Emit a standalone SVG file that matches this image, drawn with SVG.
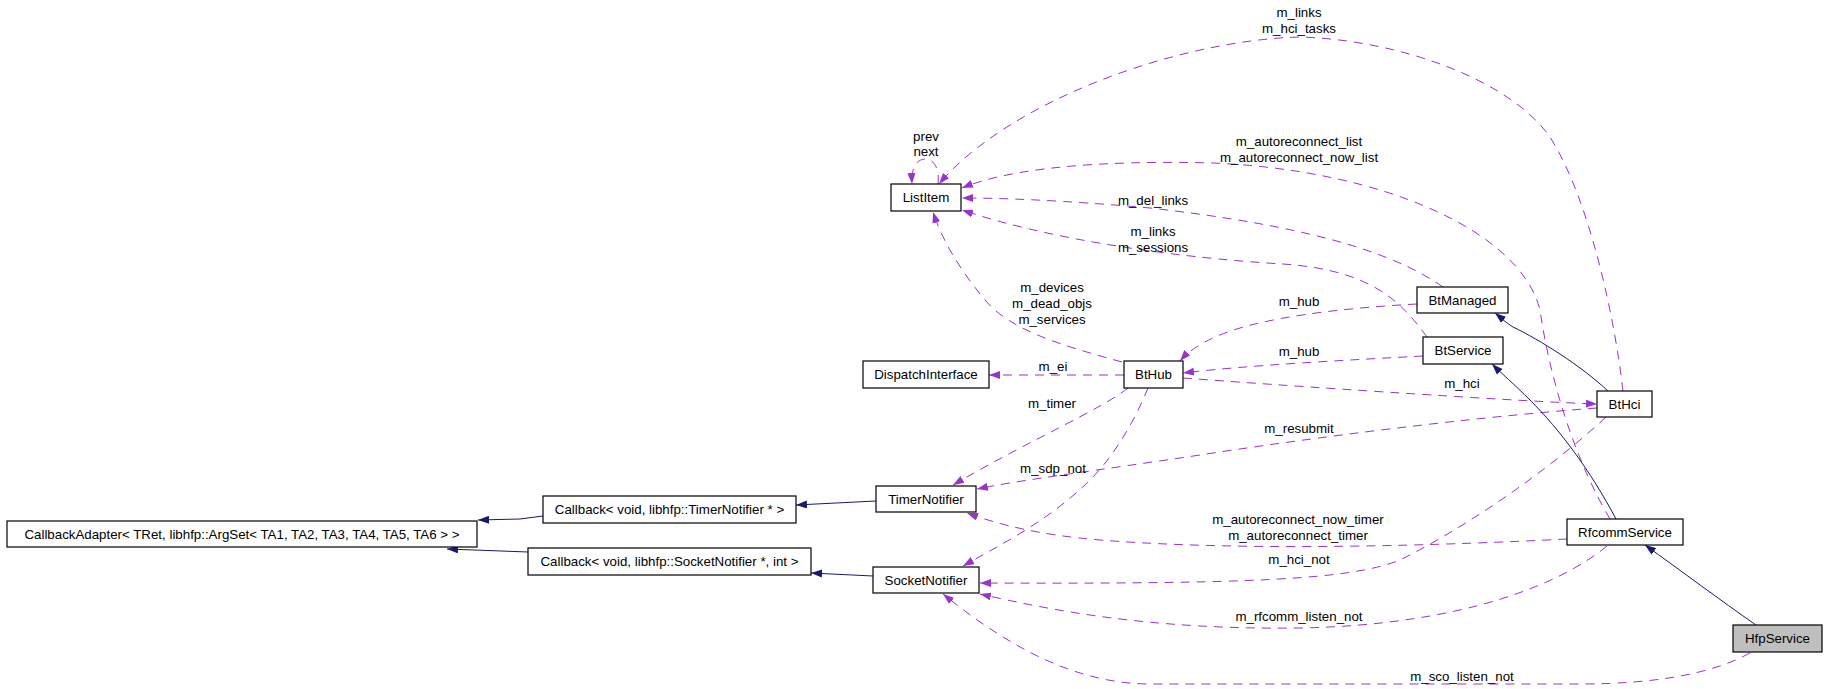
<svg xmlns="http://www.w3.org/2000/svg" width="1827" height="689" viewBox="0 0 1827 689">
<style>
.n rect{fill:#fff;stroke:#000;stroke-width:1.2}
.n text,.l text{font-family:"Liberation Sans",Arial,sans-serif;font-size:13.3px;fill:#000;text-anchor:middle}
.d{fill:none;stroke:#9a32cd;stroke-width:1;stroke-dasharray:9,7;marker-end:url(#ap)}
.s{fill:none;stroke:#191970;stroke-width:1;marker-end:url(#an)}
</style>
<defs>
<marker id="ap" viewBox="0 0 11 8" refX="11" refY="4" markerWidth="11" markerHeight="8" orient="auto" markerUnits="userSpaceOnUse"><path d="M0,0 L11,4 L0,8 z" fill="#9a32cd"/></marker>
<marker id="an" viewBox="0 0 11 8" refX="11" refY="4" markerWidth="11" markerHeight="8" orient="auto" markerUnits="userSpaceOnUse"><path d="M0,0 L11,4 L0,8 z" fill="#191970"/></marker>
</defs>
<rect width="1827" height="689" fill="#fff"/>
<g id="connectors">
<path class="d" d="M938,184 C940,168 933,159 926,159 C918,159 911,165 912,184"/>
<path class="d" d="M1623,391 C1615,320 1590,200 1550,137 C1510,80 1400,40 1300,37 C1180,40 1010,100 939,184"/>
<path class="d" d="M1610,519 C1575,460 1550,380 1540,310 C1520,230 1380,170 1213,163 C1100,160 1010,168 962,188"/>
<path class="d" d="M1443,287 C1390,250 1300,225 1150,208 C1060,200 1000,198 962,198"/>
<path class="d" d="M1427,337 C1400,300 1370,270 1283,264 C1180,258 1050,240 962,210"/>
<path class="d" d="M1122,362 C1060,345 1010,330 985,300 C960,270 942,240 933,212"/>
<path class="d" d="M1124,375 L989,375"/>
<path class="d" d="M1417,304 C1340,308 1260,318 1220,335 C1200,343 1188,352 1180,361"/>
<path class="d" d="M1423,356 C1350,360 1250,365 1183,373"/>
<path class="d" d="M1183,378 C1250,383 1350,390 1480,398 C1530,401 1570,403 1597,404"/>
<path class="d" d="M1597,408 C1500,415 1350,432 1200,455 C1100,470 1020,480 977,489"/>
<path class="d" d="M1128,388 C1100,410 1030,440 953,485"/>
<path class="d" d="M1148,388 C1135,420 1115,455 1090,480 C1050,520 1000,545 963,566"/>
<path class="d" d="M1567,539 C1450,545 1250,552 1100,540 C1040,535 1000,525 967,513"/>
<path class="d" d="M1606,417 C1560,460 1480,520 1400,560 C1350,580 1250,584 980,583"/>
<path class="d" d="M1607,546 C1560,585 1460,625 1300,628 C1150,630 1050,610 980,594"/>
<path class="d" d="M1750,653 C1710,675 1650,684 1580,684 L1150,684 C1070,684 1000,640 943,594"/>
<path class="s" d="M1608,391 C1580,365 1540,340 1513,327 C1505,322 1500,317 1495,313"/>
<path class="s" d="M1616,519 C1590,470 1560,430 1530,400 C1515,385 1500,372 1492,364"/>
<path class="s" d="M1756,625 C1720,600 1680,570 1645,545"/>
<path class="s" d="M876,501 L796,505"/>
<path class="s" d="M873,576 L811,573"/>
<path class="s" d="M543,516 L520,519 L478,520"/>
<path class="s" d="M528,552 L447,549"/>
</g>
<g id="labels" class="l">
<text x="926" y="141">prev</text>
<text x="926" y="156">next</text>
<text x="1299" y="17">m_links</text>
<text x="1299" y="33">m_hci_tasks</text>
<text x="1299" y="146">m_autoreconnect_list</text>
<text x="1299" y="162">m_autoreconnect_now_list</text>
<text x="1153" y="205">m_del_links</text>
<text x="1153" y="236">m_links</text>
<text x="1153" y="252">m_sessions</text>
<text x="1052" y="292">m_devices</text>
<text x="1052" y="308">m_dead_objs</text>
<text x="1052" y="324">m_services</text>
<text x="1053" y="371">m_ei</text>
<text x="1299" y="306">m_hub</text>
<text x="1299" y="356">m_hub</text>
<text x="1462" y="388">m_hci</text>
<text x="1299" y="433">m_resubmit</text>
<text x="1052" y="408">m_timer</text>
<text x="1053" y="473">m_sdp_not</text>
<text x="1298" y="524">m_autoreconnect_now_timer</text>
<text x="1298" y="540">m_autoreconnect_timer</text>
<text x="1299" y="564">m_hci_not</text>
<text x="1299" y="621">m_rfcomm_listen_not</text>
<text x="1462" y="681">m_sco_listen_not</text>
</g>
<g id="ListItem" class="n"><rect x="891" y="184" width="70" height="27"/><text x="926" y="202">ListItem</text></g>
<g id="DispatchInterface" class="n"><rect x="863" y="361" width="126" height="27"/><text x="926" y="379">DispatchInterface</text></g>
<g id="BtHub" class="n"><rect x="1124" y="361" width="59" height="27"/><text x="1153.5" y="379">BtHub</text></g>
<g id="BtManaged" class="n"><rect x="1417" y="287" width="91" height="26"/><text x="1462.5" y="305">BtManaged</text></g>
<g id="BtService" class="n"><rect x="1423" y="337" width="80" height="27"/><text x="1463" y="355">BtService</text></g>
<g id="BtHci" class="n"><rect x="1597" y="391" width="55" height="26"/><text x="1624.5" y="409">BtHci</text></g>
<g id="RfcommService" class="n"><rect x="1567" y="519" width="116" height="26"/><text x="1625" y="537">RfcommService</text></g>
<g id="HfpService" class="n"><rect x="1733" y="625" width="89" height="27" style="fill:#bfbfbf"/><text x="1777.5" y="643">HfpService</text></g>
<g id="CallbackAdapter" class="n"><rect x="7" y="521" width="470" height="26"/><text x="242" y="539">CallbackAdapter&lt; TRet, libhfp::ArgSet&lt; TA1, TA2, TA3, TA4, TA5, TA6 &gt; &gt;</text></g>
<g id="CallbackTimer" class="n"><rect x="543" y="496" width="253" height="27"/><text x="669.5" y="514">Callback&lt; void, libhfp::TimerNotifier * &gt;</text></g>
<g id="CallbackSocket" class="n"><rect x="528" y="548" width="283" height="27"/><text x="669.5" y="566">Callback&lt; void, libhfp::SocketNotifier *, int &gt;</text></g>
<g id="TimerNotifier" class="n"><rect x="876" y="486" width="100" height="26"/><text x="926" y="504">TimerNotifier</text></g>
<g id="SocketNotifier" class="n"><rect x="873" y="567" width="106" height="26"/><text x="926" y="585">SocketNotifier</text></g>
</svg>
